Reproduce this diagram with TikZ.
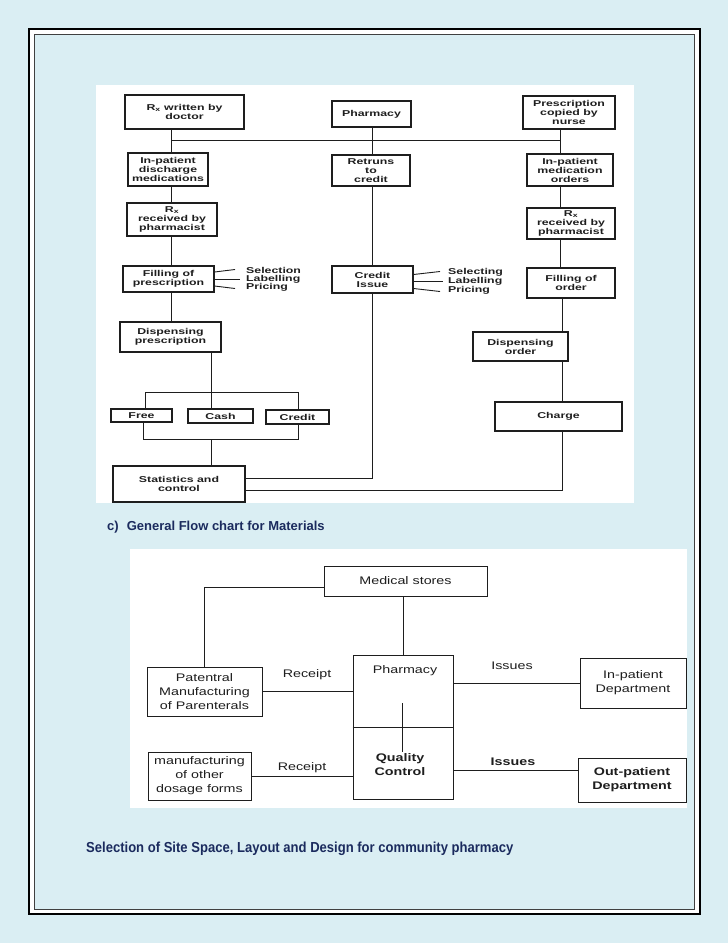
\documentclass[tikz,border=0pt]{standalone}
\usepackage{fontspec}
\setmainfont{Liberation Sans}
\newfontfamily\fa[FakeStretch=1.45]{Liberation Sans}
\newfontfamily\fb[FakeStretch=1.3]{Liberation Sans}
\newfontfamily\fcap{Liberation Sans}
\newfontfamily\fnar[FakeStretch=0.9]{Liberation Sans}
\definecolor{bg}{HTML}{DAEEF3}
\definecolor{navy}{HTML}{1B2B5E}
\definecolor{ink}{HTML}{1E1E1E}
\begin{document}
\begin{tikzpicture}[x=1pt,y=-1pt,
  boxa/.style={draw=ink, line width=1.1pt, inner sep=0pt, align=center, text=ink,
    font=\fa\bfseries\fontsize{8.5}{9}\selectfont},
  txta/.style={inner sep=0pt, text=ink, font=\fa\bfseries\fontsize{8.5}{9}\selectfont},
  boxb/.style={draw=ink, line width=0.9pt, inner sep=0pt, align=center, text=ink,
    font=\fb\fontsize{11}{14}\selectfont},
  txtb/.style={inner sep=0pt, align=center, text=ink, font=\fb\fontsize{11}{14}\selectfont},
  ln/.style={draw=ink, line width=0.9pt},
  capt/.style={inner sep=0pt, anchor=base west, text=navy}
]
\useasboundingbox (0,0) rectangle (728,943);
% background and page border
\fill[bg] (0,0) rectangle (728,943);
\fill[white] (29,29) rectangle (700,914);
\draw[black, line width=2pt] (29,29) rectangle (700,914);
\fill[bg] (34,34) rectangle (694,909);
\draw[black!75, line width=1pt] (34,34) rectangle (694,909);
% chart panels
\fill[white] (96,85) rectangle (634,503);
\fill[white] (130,549) rectangle (687,808);

% ---------------- chart 1 ----------------
\node[boxa, minimum width=119, minimum height=34] (rxdoc) at (184.5,112) {R\textsubscript{x} written by\\doctor};
\node[boxa, minimum width=79, minimum height=26] (pharm) at (371.5,114) {Pharmacy};
\node[boxa, minimum width=92, minimum height=33] (nurse) at (569,112.5) {Prescription\\copied by\\nurse};
\node[boxa, minimum width=80, minimum height=33] (ipdis) at (168,169.5) {In-patient\\discharge\\medications};
\node[boxa, minimum width=78, minimum height=31] (retr) at (371,170.5) {Retruns\\to\\credit};
\node[boxa, minimum width=86, minimum height=32] (ipmed) at (570,170) {In-patient\\medication\\orders};
\node[boxa, minimum width=90, minimum height=33] (rxrec1) at (172,219.5) {R\textsubscript{x}\\received by\\pharmacist};
\node[boxa, minimum width=88, minimum height=31] (rxrec2) at (571,223.5) {R\textsubscript{x}\\received by\\pharmacist};
\node[boxa, minimum width=91, minimum height=26] (fillp) at (168.5,279) {Filling of\\prescription};
\node[boxa, minimum width=81, minimum height=27] (credit) at (372.5,279.5) {Credit\\Issue};
\node[boxa, minimum width=88, minimum height=30] (fillo) at (571,283) {Filling of\\order};
\node[boxa, minimum width=101, minimum height=30] (dispp) at (170.5,337) {Dispensing\\prescription};
\node[boxa, minimum width=95, minimum height=29] (dispo) at (520.5,346.5) {Dispensing\\order};
\node[boxa, minimum width=61, minimum height=13] (free) at (141.5,415.5) {Free};
\node[boxa, minimum width=65, minimum height=14] (cash) at (220.5,416) {Cash};
\node[boxa, minimum width=63, minimum height=14] (cred) at (297.5,417) {Credit};
\node[boxa, minimum width=127, minimum height=29] (charge) at (558.5,416.5) {Charge};
\node[boxa, minimum width=132, minimum height=36] (stats) at (179,484) {Statistics and\\control};

\node[txta, anchor=west] (sel1) at (246,270.5) {Selection};
\node[txta, anchor=west] (lab1) at (246,279) {Labelling};
\node[txta, anchor=west] (pri1) at (246,287.5) {Pricing};
\node[txta, anchor=west] (sel2) at (448,272.5) {Selecting};
\node[txta, anchor=west] (lab2) at (448,281.5) {Labelling};
\node[txta, anchor=west] (pri2) at (448,290.5) {Pricing};

\coordinate (colL) at (171,0);
\coordinate (colM) at (372,0);
\coordinate (colR) at (560,0);
\coordinate (colR2) at (562,0);
\coordinate (cA) at (211,0);
\coordinate (hL) at (171,140);
\coordinate (hR) at (560,140);
\coordinate (ub1) at (145,392);
\coordinate (ub2) at (298,392);
\coordinate (lb1) at (143,439);
\coordinate (lb2) at (298,439);

\draw[ln] (hL) -- (hR);
\draw[ln] (rxdoc.south -| colL) -- (ipdis.north -| colL);
\draw[ln] (ipdis.south -| colL) -- (rxrec1.north -| colL);
\draw[ln] (rxrec1.south -| colL) -- (fillp.north -| colL);
\draw[ln] (fillp.south -| colL) -- (dispp.north -| colL);
\draw[ln] (pharm.south -| colM) -- (retr.north -| colM);
\draw[ln] (retr.south -| colM) -- (credit.north -| colM);
\draw[ln] (nurse.south -| colR) -- (ipmed.north -| colR);
\draw[ln] (ipmed.south -| colR) -- (rxrec2.north -| colR);
\draw[ln] (rxrec2.south -| colR) -- (fillo.north -| colR);
\draw[ln] (fillo.south -| colR2) -- (dispo.north -| colR2);
\draw[ln] (dispo.south -| colR2) -- (charge.north -| colR2);
\draw[ln] (dispp.south -| cA) -- (cash.north -| cA);
\draw[ln] (free.north -| ub1) -- (ub1) -- (ub2) -- (cred.north -| ub2);
\draw[ln] (free.south -| lb1) -- (lb1) -- (lb2) -- (cred.south -| lb2);
\draw[ln] (lb1 -| cA) -- (stats.north -| cA);
\draw[ln] (credit.south -| colM) |- ([yshift=6pt]stats.east);
\draw[ln] (charge.south -| colR2) |- ([yshift=-6pt]stats.east);
% fans
\draw[ln] ([yshift=7pt]fillp.east) -- ([xshift=-11pt,yshift=1pt]sel1.west);
\draw[ln] (fillp.east) -- ([xshift=-6pt]lab1.west);
\draw[ln] ([yshift=-7pt]fillp.east) -- ([xshift=-11pt,yshift=-1pt]pri1.west);
\draw[ln] ([yshift=5pt]credit.east) -- ([xshift=-8pt,yshift=1pt]sel2.west);
\draw[ln] ([yshift=-2pt]credit.east) -- ([xshift=-5pt]lab2.west);
\draw[ln] ([yshift=-9pt]credit.east) -- ([xshift=-8pt,yshift=-1pt]pri2.west);

% ---------------- captions ----------------
\node[capt, font=\fcap\bfseries\fontsize{13}{15}\selectfont] (capc) at (107,530) {c)\hspace{8pt}General Flow chart for Materials};
\node[capt, font=\fnar\bfseries\fontsize{14.5}{16}\selectfont] (capsel) at (86,852) {Selection of Site Space, Layout and Design for community pharmacy};

% ---------------- chart 2 ----------------
\node[boxb, minimum width=163, minimum height=30] (med) at (405.5,581) {Medical stores};
\node[draw=ink, line width=0.9pt, minimum width=100, minimum height=144, inner sep=0pt] (pqc) at (403,727) {};
\node[txtb] (phtxt) at (405,671) {Pharmacy};
\node[txtb, font=\fb\bfseries\fontsize{11}{14}\selectfont] (qctxt) at (400,765) {Quality\\Control};
\node[boxb, minimum width=115, minimum height=49] (pat) at (204.5,691.5) {Patentral\\Manufacturing\\of Parenterals};
\node[boxb, minimum width=103, minimum height=48] (mfg) at (199.5,776) {manufacturing\\of other\\dosage forms};
\node[boxb, minimum width=106, minimum height=50] (ipd) at (633,683) {In-patient\\Department};
\node[boxb, minimum width=108, minimum height=44, font=\fb\bfseries\fontsize{11}{14}\selectfont] (opd) at (632,780) {Out-patient\\Department};

\node[txtb] (rc1) at (307,675) {Receipt};
\node[txtb] (rc2) at (302,768) {Receipt};
\node[txtb] (is1) at (512,666) {Issues};
\node[txtb, font=\fb\bfseries\fontsize{11}{14}\selectfont] (is2) at (513,762) {Issues};

\coordinate (c2) at (403,0);
\coordinate (il1) at (402,703);
\coordinate (il2) at (402,752);
\draw[ln] (pqc.west) -- (pqc.east);
\draw[ln] (il1) -- (il2);
\draw[ln] (med.south -| c2) -- (pqc.north -| c2);
\draw[ln] ([yshift=-6pt]med.west) -| (pat.north);
\draw[ln] (pat.east) -- (pat.east -| pqc.west);
\draw[ln] (mfg.east) -- (mfg.east -| pqc.west);
\draw[ln] (ipd.west -| pqc.east) -- (ipd.west);
\draw[ln] ([yshift=10pt]opd.west -| pqc.east) -- ([yshift=10pt]opd.west);
\end{tikzpicture}
\end{document}
